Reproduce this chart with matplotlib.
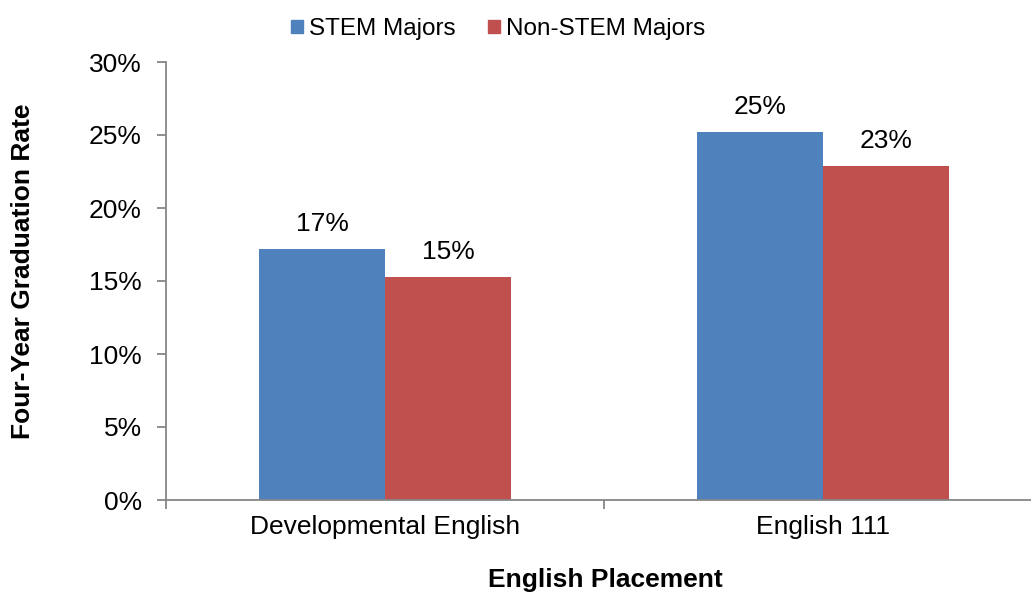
import matplotlib
matplotlib.use("Agg")
import matplotlib.pyplot as plt
import numpy as np
from matplotlib.ticker import FuncFormatter, FixedLocator
from matplotlib.patches import Patch

plt.rcParams['font.family'] = ['Liberation Sans', 'DejaVu Sans']

categories = ["Developmental English", "English 111"]
series_names = ["STEM Majors", "Non-STEM Majors"]
stem_rates = [17.2, 25.2]
non_stem_rates = [15.3, 22.9]
colors = ["#4F81BD", "#C0504D"]

W, H = 1031, 592
fig = plt.figure(figsize=(W / 100, H / 100), dpi=100)
left, right, top, bottom = 166, 1042, 62, 500
ax = fig.add_axes([left / W, 1 - bottom / H, (right - left) / W, (bottom - top) / H])

x = np.arange(len(categories))
bw = 0.2877
gray = "#868686"
fs = 19

for i, (vals, c, name) in enumerate(zip([stem_rates, non_stem_rates], colors, series_names)):
    offs = (i - 0.5) * bw
    ax.bar(x + offs, vals, width=bw, color=c, label=name, zorder=2)
    for xi, v in zip(x, vals):
        ax.annotate(f"{v:.0f}%", (xi + offs, v), xytext=(0, 13), textcoords="offset points",
                    ha="center", va="baseline", fontsize=fs)

ax.set_xlim(-0.5, 1.5)
ax.set_ylim(0, 30)
ax.set_yticks(np.arange(0, 31, 5))
ax.yaxis.set_major_formatter(FuncFormatter(lambda v, p: f"{v:.0f}%"))
ax.xaxis.set_major_locator(FixedLocator([-0.5, 0.5, 1.5]))
ax.xaxis.set_major_formatter(FuncFormatter(lambda v, p: ""))
ax.xaxis.set_minor_locator(FixedLocator(list(x)))
ax.set_xticklabels(categories, minor=True)
ax.tick_params(axis="x", which="minor", length=0, pad=11, labelsize=fs)
ax.tick_params(axis="x", which="major", length=6.5, width=1.3, color=gray, direction="out")
ax.tick_params(axis="y", length=6.5, width=1.3, color=gray, direction="out", labelsize=fs, pad=11)

for s in ["top", "right"]:
    ax.spines[s].set_visible(False)
for s in ["left", "bottom"]:
    ax.spines[s].set_color(gray)
    ax.spines[s].set_linewidth(1.3)

fig.text(23 / W, 1 - 271 / H, "Four-Year Graduation Rate", rotation=90, ha="center", va="center",
         fontsize=fs, fontweight="bold")
fig.text(605 / W, 1 - 580 / H, "English Placement", ha="center", va="center",
         fontsize=fs, fontweight="bold")

handles = [Patch(color=c) for c in colors]
fig.legend(handles, series_names, loc="center", bbox_to_anchor=(498 / W, 1 - 29 / H), ncol=2,
           frameon=False, fontsize=17.5, handlelength=0.47, handleheight=0.47, handletextpad=0.25,
           columnspacing=1.35)

fig.savefig("out.png", dpi=100)
